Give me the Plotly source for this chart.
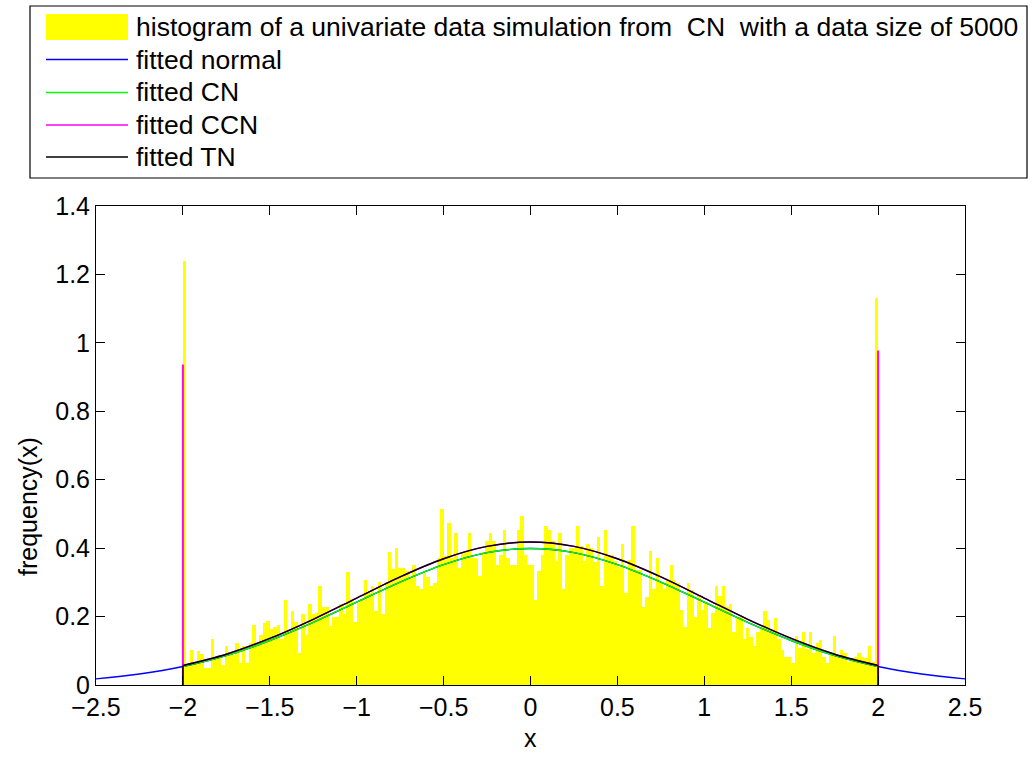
import numpy as np
import plotly.graph_objects as go

# Histogram: 200 bins of width 0.02 on [-2, 2], heights as density
bin_start = -2.0
bin_width = 0.02
hist_density = [
    1.24, 0.058, 0.102, 0.06, 0.10, 0.09, 0.05, 0.05, 0.135, 0.08,
    0.078, 0.058, 0.114, 0.093, 0.088, 0.123, 0.063, 0.113, 0.063, 0.123,
    0.176, 0.123, 0.145, 0.18, 0.186, 0.165, 0.17, 0.176, 0.134, 0.249,
    0.16, 0.217, 0.185, 0.095, 0.208, 0.145, 0.237, 0.208, 0.21, 0.29,
    0.228, 0.228, 0.171, 0.199, 0.2, 0.237, 0.208, 0.331, 0.25, 0.185,
    0.24, 0.25, 0.307, 0.27, 0.29, 0.217, 0.30, 0.208, 0.30, 0.39,
    0.34, 0.40, 0.342, 0.342, 0.332, 0.317, 0.351, 0.29, 0.28, 0.327,
    0.317, 0.29, 0.298, 0.371, 0.515, 0.376, 0.474, 0.371, 0.444, 0.342,
    0.39, 0.39, 0.444, 0.371, 0.371, 0.32, 0.39, 0.42, 0.444, 0.42,
    0.351, 0.381, 0.454, 0.371, 0.351, 0.351, 0.454, 0.495, 0.381, 0.351,
    0.351, 0.249, 0.332, 0.381, 0.464, 0.454, 0.42, 0.361, 0.444, 0.28,
    0.381, 0.40, 0.40, 0.464, 0.405, 0.361, 0.413, 0.40, 0.36, 0.433,
    0.29, 0.454, 0.376, 0.381, 0.361, 0.345, 0.412, 0.269, 0.366, 0.464,
    0.337, 0.337, 0.228, 0.257, 0.392, 0.28, 0.371, 0.298, 0.28, 0.307,
    0.35, 0.307, 0.298, 0.218, 0.17, 0.298, 0.278, 0.198, 0.26, 0.218,
    0.244, 0.166, 0.21, 0.29, 0.26, 0.29, 0.229, 0.236, 0.156, 0.195,
    0.2, 0.134, 0.166, 0.14, 0.114, 0.156, 0.17, 0.217, 0.19, 0.16,
    0.197, 0.134, 0.102, 0.083, 0.083, 0.063, 0.143, 0.107, 0.155, 0.105,
    0.155, 0.093, 0.123, 0.132, 0.083, 0.063, 0.088, 0.143, 0.083, 0.102,
    0.093, 0.068, 0.08, 0.083, 0.093, 0.083, 0.08, 0.114, 0.068, 1.13,
]

# Fitted densities sampled every 0.25
curve_x = [-2.5, -2.25, -2.0, -1.75, -1.5, -1.25, -1.0, -0.75, -0.5, -0.25, 0.0,
           0.25, 0.5, 0.75, 1.0, 1.25, 1.5, 1.75, 2.0, 2.25, 2.5]
normal_y = [0.018, 0.032, 0.054, 0.086, 0.130, 0.183, 0.242, 0.301, 0.352, 0.387, 0.399,
            0.387, 0.352, 0.301, 0.242, 0.183, 0.130, 0.086, 0.054, 0.032, 0.018]
cn_x = curve_x[2:-2]
cn_y = [0.054, 0.086, 0.130, 0.183, 0.242, 0.301, 0.352, 0.387, 0.399,
        0.387, 0.352, 0.301, 0.242, 0.183, 0.130, 0.086, 0.054]
tn_y = [0.057, 0.090, 0.136, 0.192, 0.254, 0.316, 0.369, 0.405, 0.418,
        0.405, 0.369, 0.316, 0.254, 0.192, 0.136, 0.090, 0.057]
ccn_y = tn_y
ccn_spikes = [0.937, 0.978]   # point-mass heights at x = -2 and x = 2
censor_bounds = [-2.0, 2.0]

legend_labels = [
    "histogram of a univariate data simulation from  CN  with a data size of 5000",
    "fitted normal",
    "fitted CN",
    "fitted CCN",
    "fitted TN",
]

YELLOW = "#ffff00"
BLUE = "#0000ff"
GREEN = "#00ff00"
MAGENTA = "#ff00ff"
BLACK = "#000000"

FONT = "Liberation Sans, Arial, Helvetica, sans-serif"
W, H = 1032, 758
L, R, T, B = 96, 965, 206, 685   # plot-area edges in pixels


def px(xp):
    return (xp - L) / (R - L)


def py(yp):
    return (B - yp) / (B - T)


centers = bin_start + bin_width * (np.arange(len(hist_density)) + 0.5)

fig = go.Figure()
fig.add_trace(go.Bar(x=centers, y=hist_density, width=bin_width,
                     marker=dict(color=YELLOW, line=dict(width=0)),
                     showlegend=False))

lw = 1.4
fig.add_trace(go.Scatter(x=curve_x, y=normal_y, mode="lines", line_shape="spline",
                         line=dict(color=BLUE, width=lw), showlegend=False))


def censored(color, ys, width):
    fig.add_trace(go.Scatter(x=cn_x, y=ys, mode="lines", line_shape="spline",
                             line=dict(color=color, width=width), showlegend=False))
    for b, yv in zip(censor_bounds, [ys[0], ys[-1]]):
        fig.add_trace(go.Scatter(x=[b, b], y=[0, yv], mode="lines",
                                 line=dict(color=color, width=width), showlegend=False))


censored(GREEN, cn_y, lw)
# CCN: continuous part plus spikes at the censoring points
fig.add_trace(go.Scatter(x=cn_x, y=ccn_y, mode="lines", line_shape="spline",
                         line=dict(color=MAGENTA, width=lw), showlegend=False))
for b, s in zip(censor_bounds, ccn_spikes):
    fig.add_trace(go.Scatter(x=[b, b], y=[0, s], mode="lines",
                             line=dict(color=MAGENTA, width=2), showlegend=False))
censored(BLACK, tn_y, lw)

# Legend drawn in pixel space
shapes = [dict(type="rect", xref="paper", yref="paper",
               x0=px(30), x1=px(1027), y0=py(178), y1=py(6),
               line=dict(color="black", width=1.2), fillcolor="white", layer="above")]
shapes.append(dict(type="rect", xref="paper", yref="paper",
                   x0=px(46), x1=px(128), y0=py(40), y1=py(14),
                   line=dict(width=0), fillcolor=YELLOW, layer="above"))
row_y = [27, 59.5, 92.5, 125, 157]
for c, yy in zip([BLUE, GREEN, MAGENTA, BLACK], row_y[1:]):
    shapes.append(dict(type="line", xref="paper", yref="paper",
                       x0=px(46), x1=px(128), y0=py(yy), y1=py(yy),
                       line=dict(color=c, width=1.3), layer="above"))
annotations = []
for lab, yy in zip(legend_labels, row_y):
    annotations.append(dict(text=lab, xref="paper", yref="paper",
                            x=px(134), y=py(yy), xanchor="left", yanchor="middle",
                            showarrow=False, font=dict(family=FONT, size=26.5, color="black")))
annotations.append(dict(text="frequency(x)", xref="paper", yref="paper",
                        x=px(28), y=py(507), textangle=-90, xanchor="center",
                        yanchor="middle", showarrow=False,
                        font=dict(family=FONT, size=25, color="black")))
annotations.append(dict(text="x", xref="paper", yref="paper",
                        x=0.5, y=py(738), xanchor="center", yanchor="middle",
                        showarrow=False, font=dict(family=FONT, size=25, color="black")))

axis_common = dict(showgrid=False, zeroline=False, showline=True, linecolor="black",
                   linewidth=1, mirror="ticks", ticks="inside", ticklen=9,
                   tickcolor="black", tickwidth=1,
                   tickfont=dict(family=FONT, size=25, color="black"))

fig.update_layout(
    width=W, height=H,
    margin=dict(l=L, r=W - R, t=T, b=H - B, pad=0),
    paper_bgcolor="white", plot_bgcolor="white",
    bargap=0, showlegend=False,
    xaxis=dict(range=[-2.5, 2.5], tickvals=[-2.5, -2, -1.5, -1, -0.5, 0, 0.5, 1, 1.5, 2, 2.5],
               ticktext=["\u22122.5", "\u22122", "\u22121.5", "\u22121", "\u22120.5", "0",
                         "0.5", "1", "1.5", "2", "2.5"], **axis_common),
    yaxis=dict(range=[0, 1.4], tickvals=[0, 0.2, 0.4, 0.6, 0.8, 1, 1.2, 1.4],
               ticktext=["0", "0.2", "0.4", "0.6", "0.8", "1", "1.2", "1.4"], **axis_common),
    shapes=shapes, annotations=annotations,
)

fig.write_html("out.html")
